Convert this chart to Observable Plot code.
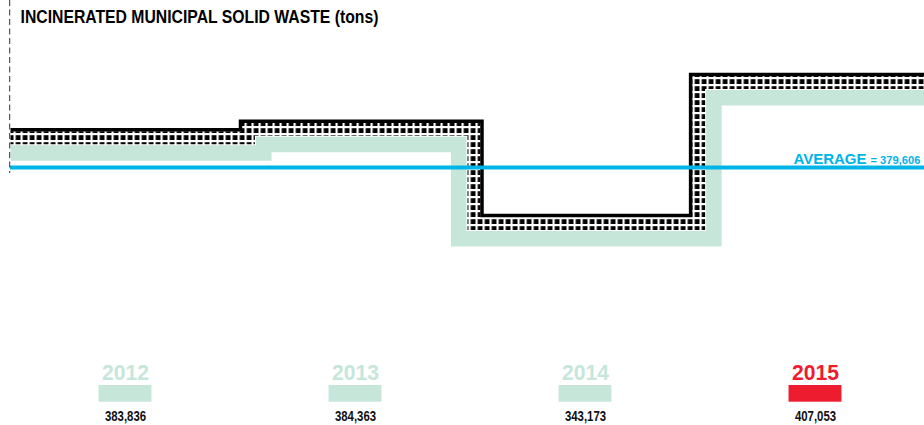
<!DOCTYPE html>
<html>
<head>
<meta charset="utf-8">
<script src="https://cdn.jsdelivr.net/npm/d3@7"></script>
<script src="https://cdn.jsdelivr.net/npm/@observablehq/plot@0.6"></script>
<style>
  body { margin: 0; background: #fff; }
  #chart { width: 924px; height: 425px; overflow: hidden; }
  #chart svg { display: block; }
</style>
</head>
<body>
<div id="chart"></div>
<script>
// ---- data ----
const title = "INCINERATED MUNICIPAL SOLID WASTE (tons)";
const years = [2012, 2013, 2014, 2015];
const tons = [383836, 384363, 343173, 407053];
const valueLabels = ["383,836", "384,363", "343,173", "407,053"];
// moments (in fractional years) at which the drawn step changes level
const stepChanges = [2012.5, 2013.55, 2014.457];
const periodStart = 2011.5;
const periodEnd = 2015.5;
const average = 379606;
const averageLabel = "AVERAGE";
const highlightYear = 2015;

// ---- styling ----
const GREEN = "#c6e6da";
const RED = "#ed1c2e";
const CYAN = "#00b4e6";
const SANS = "'Liberation Sans', Arial, sans-serif";

// step vertices (step-after)
const starts = [periodStart, ...stepChanges];
const steps = years.map((yr, i) => ({x: starts[i], y: tons[i], year: yr}));
steps.push({x: periodEnd, y: tons[tons.length - 1], year: years[years.length - 1]});

// custom curve: a step-after line offset in parallel to its right-hand side (below) by d pixels
function offsetStep(d) {
  return function (context) {
    let pts = [];
    return {
      areaStart() {}, areaEnd() {},
      lineStart() { pts = []; },
      point(x, y) { pts.push([+x, +y]); },
      lineEnd() {
        if (!pts.length) return;
        context.moveTo(pts[0][0], pts[0][1] + d);
        for (let i = 0; i < pts.length - 1; ++i) {
          const [, y0] = pts[i];
          const [x1, y1] = pts[i + 1];
          if (y1 === y0 || i === pts.length - 2) {
            context.lineTo(x1, y0 + d);
          } else {
            const xv = x1 + (y0 > y1 ? d : -d);
            context.lineTo(xv, y0 + d);
            context.lineTo(xv, y1 + d);
          }
        }
      }
    };
  };
}

const lineStyle = {strokeLinejoin: "miter", strokeLinecap: "butt", strokeMiterlimit: 10};
const yDomain = [343173, average, 383836, 384363, 407053];

const main = Plot.plot({
  width: 924,
  height: 350,
  marginTop: 0,
  marginLeft: 10,
  marginRight: 0,
  marginBottom: 177,
  style: {background: "#fff", overflow: "visible"},
  x: {type: "linear", domain: [periodStart, periodEnd], range: [10, 930], axis: null},
  y: {type: "linear", domain: yDomain, range: [215, 167, 129.2, 120.8, 74], axis: null},
  marks: [
    Plot.line(steps, {x: "x", y: "y", curve: offsetStep(23.3), stroke: GREEN, strokeWidth: 15.5, ...lineStyle}),
    Plot.line(steps, {x: "x", y: "y", curve: offsetStep(8), stroke: "url(#dotpat)", strokeWidth: 13, ...lineStyle}),
    Plot.line(steps, {x: "x", y: "y", curve: "step-after", stroke: "#000", strokeWidth: 3.5, ...lineStyle}),
    Plot.ruleY([average], {stroke: CYAN, strokeWidth: 4}),
    Plot.ruleX([periodStart], {stroke: "#333", strokeWidth: 1, strokeDasharray: "6,3.5", dx: -0.8}),
    Plot.text([title], {frameAnchor: "top-left", text: d => d, lineAnchor: "bottom", dx: 10, dy: 22.7,
      fontFamily: SANS, fontWeight: "bold", fontSize: 17.5, fill: "#000", textAnchor: "start"}),
    Plot.text([average], {y: d => d, text: () => averageLabel, frameAnchor: "right", textAnchor: "end",
      lineAnchor: "bottom", dx: -58, dy: -3.7, fontFamily: SANS, fontWeight: "bold", fontSize: 15, fill: CYAN}),
    Plot.text([average], {y: d => d, text: d => "= " + d3.format(",")(d), frameAnchor: "right", textAnchor: "end",
      lineAnchor: "bottom", dx: -4, dy: -3.7, fontFamily: SANS, fontWeight: "bold", fontSize: 11.2, fill: CYAN})
  ]
});

// dotted pattern for the middle band
const defs = d3.select(main).insert("defs", ":first-child");
const pat = defs.append("pattern").attr("id", "dotpat").attr("patternUnits", "userSpaceOnUse")
  .attr("width", 7).attr("height", 7).attr("x", 0).attr("y", 0.5);
pat.append("rect").attr("width", 7).attr("height", 7).attr("fill", "#fff");
pat.append("rect").attr("x", 1.2).attr("y", 1.2).attr("width", 4.8).attr("height", 4.8).attr("fill", "#000");

const legend = Plot.plot({
  width: 924,
  height: 75,
  marginTop: 35,
  marginBottom: 23.3,
  marginLeft: 10,
  marginRight: 0,
  style: {background: "#fff", overflow: "visible"},
  x: {type: "band", domain: years, range: [10, 930], paddingInner: 0.77, paddingOuter: 0.385, round: false, axis: null},
  marks: [
    Plot.cell(years, {x: d => d, fill: d => d === highlightYear ? RED : GREEN}),
    Plot.text(years, {x: d => d, text: d => String(d), frameAnchor: "top", lineAnchor: "bottom", dy: -5.7,
      fontFamily: SANS, fontWeight: "bold", fontSize: 22, fill: d => d === highlightYear ? RED : GREEN}),
    Plot.text(years, {x: d => d, text: (d, i) => valueLabels[i], frameAnchor: "bottom", lineAnchor: "bottom", dy: 18.3,
      fontFamily: SANS, fontWeight: "bold", fontSize: 15, fill: "#111"})
  ]
});

const chart = document.getElementById("chart");
chart.appendChild(main);
chart.appendChild(legend);

// the reference uses a condensed typeface: narrow the installed sans to match
function condenseFactor(t) {
  if (t === title) return 0.9;
  if (valueLabels.includes(t)) return 0.76;
  if (years.map(String).includes(t)) return 0.96;
  return null;
}
d3.selectAll("#chart text").each(function () {
  const f = condenseFactor(this.textContent);
  if (f) {
    const w = this.getComputedTextLength();
    this.setAttribute("textLength", (w * f).toFixed(1));
    this.setAttribute("lengthAdjust", "spacingAndGlyphs");
  }
});
</script>
</body>
</html>
